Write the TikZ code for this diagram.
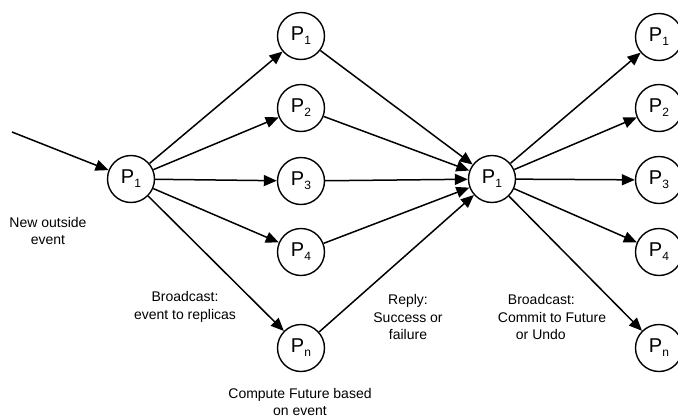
\documentclass[tikz,border=0pt]{standalone}
\usepackage{fontspec}
\setmainfont{Liberation Sans}
\usetikzlibrary{arrows.meta}
\newcommand{\Pn}[1]{P{\fontsize{12}{12}\selectfont\raisebox{-4pt}{#1}}}
\begin{document}
\begin{tikzpicture}[x=1pt,y=-1pt,
  proc/.style={circle,draw,line width=1.4pt,minimum size=47pt,inner sep=0pt,font=\fontsize{20}{20}\selectfont},
  arr/.style={line width=1.5pt,-{Triangle[length=13pt,width=11pt]},shorten >=0pt},
  lbl/.style={align=center,font=\fontsize{14}{17.5}\selectfont,inner sep=0pt}]
\useasboundingbox (0,0) rectangle (678,418);
\begin{scope}
\clip (0,0) rectangle (678,418);
\node[proc] (s) at (131,179) {\Pn{1}};
\node[proc] (m1) at (301,36) {\Pn{1}};
\node[proc] (m2) at (301,108) {\Pn{2}};
\node[proc] (m3) at (301,181) {\Pn{3}};
\node[proc] (m4) at (301,252) {\Pn{4}};
\node[proc] (mn) at (301,348) {\Pn{n}};
\node[proc] (c) at (492,179) {\Pn{1}};
\node[proc] (r1) at (659,37) {\Pn{1}};
\node[proc] (r2) at (659,108) {\Pn{2}};
\node[proc] (r3) at (659,180) {\Pn{3}};
\node[proc] (r4) at (659,252) {\Pn{4}};
\node[proc] (rn) at (659,348) {\Pn{n}};
\coordinate (in) at (12,132);
\draw[arr] (in) -- (s);
\foreach \t in {m1,m2,m3,m4,mn} \draw[arr] (s) -- (\t);
\foreach \t in {m1,m2,m3,m4,mn} \draw[arr] (\t) -- (c);
\foreach \t in {r1,r2,r3,r4,rn} \draw[arr] (c) -- (\t);
\end{scope}
\node[lbl] (l1) at (48,231) {New outside\\event};
\node[lbl] (l2) at (185,307) {Broadcast:\\event to replicas};
\node[lbl] (l3) at (300,402) {Compute Future based\\on event};
\node[lbl] (l4) at (408,317) {Reply:\\Success or\\failure};
\node[lbl,align=left] (l5) at (552,317) {\hspace*{10pt}Broadcast:\\Commit to Future\\\hspace*{18pt}or Undo};
\end{tikzpicture}
\end{document}
